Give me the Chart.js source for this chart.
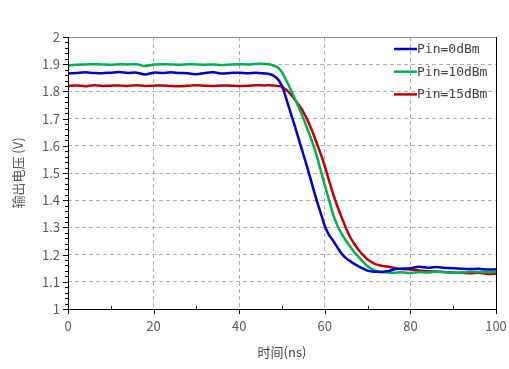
<!DOCTYPE html>
<html>
<head>
<meta charset="utf-8">
<script src="https://cdn.jsdelivr.net/npm/chart.js@4.4.0/dist/chart.umd.min.js"></script>
<style>
    html, body { margin: 0; padding: 0; background: #fff; }
    #wrap { width: 509px; height: 369px; }
</style>
</head>
<body>
<div id="wrap"><canvas id="chart" width="509" height="369"></canvas></div>
<script>
// time axis (ns)
const times = [0, 2, 4, 6, 8, 10, 12, 14, 16, 18, 20, 22, 24, 26, 28, 30, 32, 34, 36, 38, 40, 42, 44, 46,
    47, 48, 49, 50, 51, 52, 53, 54, 55, 56, 57, 58, 59, 60, 61, 62, 63, 64, 65, 66, 67, 68, 69, 70,
    71, 72, 73, 74, 75, 76, 78, 80, 82, 84, 86, 88, 90, 92, 94, 96, 98, 100];

// output voltage (V) for each input power
const pin0 = [1.866, 1.868, 1.870, 1.868, 1.867, 1.869, 1.871, 1.868, 1.869, 1.862, 1.869, 1.868, 1.870, 1.868, 1.867, 1.863, 1.868, 1.870, 1.866, 1.868, 1.869, 1.867, 1.869, 1.866,
    1.864, 1.858, 1.845, 1.820, 1.773, 1.722, 1.672, 1.620, 1.568, 1.515, 1.460, 1.405, 1.355, 1.305, 1.272, 1.250, 1.225, 1.202, 1.186, 1.175, 1.165, 1.156, 1.148, 1.141,
    1.138, 1.137, 1.136, 1.138, 1.140, 1.145, 1.148, 1.150, 1.155, 1.152, 1.154, 1.151, 1.150, 1.148, 1.147, 1.148, 1.145, 1.146];

const pin10 = [1.895, 1.898, 1.899, 1.900, 1.899, 1.898, 1.900, 1.899, 1.900, 1.893, 1.899, 1.900, 1.899, 1.898, 1.900, 1.899, 1.898, 1.899, 1.897, 1.899, 1.900, 1.899, 1.901, 1.901,
    1.900, 1.895, 1.889, 1.870, 1.840, 1.808, 1.773, 1.738, 1.700, 1.660, 1.617, 1.570, 1.512, 1.455, 1.400, 1.345, 1.305, 1.275, 1.250, 1.228, 1.207, 1.190, 1.172, 1.157,
    1.147, 1.140, 1.137, 1.135, 1.134, 1.133, 1.135, 1.132, 1.136, 1.134, 1.138, 1.135, 1.133, 1.134, 1.137, 1.136, 1.135, 1.136];

const pin15 = [1.820, 1.822, 1.819, 1.823, 1.820, 1.821, 1.822, 1.820, 1.823, 1.820, 1.821, 1.822, 1.820, 1.819, 1.821, 1.823, 1.821, 1.820, 1.822, 1.821, 1.820, 1.821, 1.823, 1.822,
    1.823, 1.822, 1.820, 1.817, 1.806, 1.790, 1.770, 1.748, 1.724, 1.693, 1.656, 1.615, 1.572, 1.525, 1.472, 1.420, 1.375, 1.335, 1.295, 1.262, 1.237, 1.215, 1.197, 1.182,
    1.172, 1.164, 1.160, 1.157, 1.155, 1.152, 1.147, 1.145, 1.142, 1.139, 1.138, 1.136, 1.134, 1.133, 1.131, 1.133, 1.129, 1.130];

const seriesNames = ['Pin=0dBm', 'Pin=10dBm', 'Pin=15dBm'];
const seriesColors = ['#0000CC', '#00B050', '#C00000'];

const toPoints = (vals) => vals.map((v, i) => ({ x: times[i], y: v }));

// axes, minor ticks and the in-plot legend
const framePlugin = {
    id: 'frame',
    afterDraw(chart) {
        const ctx = chart.ctx;
        const a = chart.chartArea;
        const xs = chart.scales.x;
        const ys = chart.scales.y;
        ctx.save();
        ctx.lineWidth = 1;

        // top edge
        ctx.strokeStyle = '#8C8C8C';
        ctx.beginPath();
        ctx.moveTo(a.left, a.top + 0.5);
        ctx.lineTo(a.right, a.top + 0.5);
        ctx.stroke();

        // left, bottom, right edges
        ctx.strokeStyle = '#000';
        ctx.beginPath();
        ctx.moveTo(a.left + 0.5, a.top);
        ctx.lineTo(a.left + 0.5, a.bottom);
        ctx.moveTo(a.left, a.bottom + 0.5);
        ctx.lineTo(a.right, a.bottom + 0.5);
        ctx.moveTo(a.right + 0.5, a.top);
        ctx.lineTo(a.right + 0.5, a.bottom + 1);
        ctx.stroke();

        // y ticks every 0.02
        ctx.beginPath();
        for (let i = 0; i <= 50; i++) {
            const py = Math.round(ys.getPixelForValue(1 + i * 0.02)) + 0.5;
            const len = i % 5 === 0 ? 5 : 3;
            ctx.moveTo(a.left - len, py);
            ctx.lineTo(a.left + 1, py);
        }
        // x ticks every 10
        for (let i = 0; i <= 10; i++) {
            const px = Math.round(xs.getPixelForValue(i * 10)) + 0.5;
            if (i % 2 === 0) {
                ctx.moveTo(px, a.bottom);
                ctx.lineTo(px, a.bottom + 5);
            } else {
                ctx.moveTo(px, a.bottom);
                ctx.lineTo(px, a.bottom - 3);
            }
        }
        ctx.stroke();

        // legend
        ctx.font = '13px "DejaVu Sans Mono", monospace';
        ctx.textBaseline = 'middle';
        ctx.fillStyle = '#404040';
        chart.data.datasets.forEach((ds, i) => {
            const ly = a.top + 12 + i * 22.7;
            ctx.strokeStyle = ds.borderColor;
            ctx.lineWidth = 2.5;
            ctx.beginPath();
            ctx.moveTo(a.right - 102, ly);
            ctx.lineTo(a.right - 79, ly);
            ctx.stroke();
            ctx.fillText(ds.label, a.right - 79, ly + 0.5);
        });
        ctx.restore();
    }
};

const ctx = document.getElementById('chart').getContext('2d');
new Chart(ctx, {
    type: 'line',
    data: {
        datasets: [pin0, pin10, pin15].map((vals, i) => ({
            label: seriesNames[i],
            data: toPoints(vals),
            borderColor: seriesColors[i],
            borderWidth: 2.5,
            pointRadius: 0,
            tension: 0.3,
            fill: false,
        })),
    },
    options: {
        responsive: false,
        animation: false,
        layout: { padding: { top: 37, right: 13, left: 0, bottom: 0 } },
        plugins: {
            legend: { display: false },
            tooltip: { enabled: false },
        },
        scales: {
            x: {
                type: 'linear',
                min: 0,
                max: 100,
                ticks: { stepSize: 20, color: '#595959', padding: 9, font: { size: 13, family: '"Noto Sans CJK SC", sans-serif' } },
                grid: { color: '#ADADAD', lineWidth: 1, drawTicks: false },
                border: { display: false, dash: [4, 3] },
                title: { display: true, text: '时间(ns)', color: '#404040', padding: { top: 1, bottom: 9 }, font: { size: 13, family: '"Noto Sans CJK SC", sans-serif' } },
                afterFit: (scale) => {
                    scale.height = 60;
                    scale.paddingLeft = 0;
                    scale.paddingRight = 0;
                },
            },
            y: {
                min: 1,
                max: 2,
                ticks: { stepSize: 0.1, color: '#595959', padding: 8, font: { size: 13, family: '"Noto Sans CJK SC", sans-serif' },
                    callback: (v) => Math.round(v * 10) / 10 },
                grid: { color: '#ADADAD', lineWidth: 1, drawTicks: false },
                border: { display: false, dash: [4, 3] },
                title: { display: true, text: '输出电压 (V)', color: '#595959', padding: { top: 10, bottom: 4 }, font: { size: 13, family: '"Noto Sans CJK SC", sans-serif' } },
                afterFit: (scale) => {
                    scale.width = 68;
                    scale.paddingTop = 0;
                    scale.paddingBottom = 0;
                },
            },
        },
    },
    plugins: [framePlugin],
});
</script>
</body>
</html>
